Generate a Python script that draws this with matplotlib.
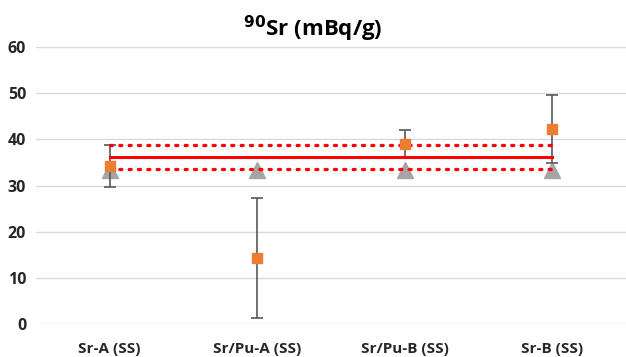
import matplotlib
matplotlib.use("Agg")
import matplotlib.pyplot as plt
import numpy as np

categories = ["Sr-A (SS)", "Sr/Pu-A (SS)", "Sr/Pu-B (SS)", "Sr-B (SS)"]
measured = [34.2, 14.3, 39.0, 42.2]
meas_err = [4.6, 13.0, 3.0, 7.3]
reference = [33.3, 33.3, 33.3, 33.3]
mean_val = [36.1, 36.1, 36.1, 36.1]
upper_lim = [38.8, 38.8, 38.8, 38.8]
lower_lim = [33.5, 33.5, 33.5, 33.5]
yticks = [0, 10, 20, 30, 40, 50, 60]

plt.rcParams['font.family'] = ['Open Sans', 'DejaVu Sans']

fig = plt.figure(figsize=(6.26, 3.57), dpi=100)
ax = fig.add_axes([36/626, 1-324/357, 590/626, (324-47)/357])
x = np.arange(len(categories))

ax.plot(x, reference, linestyle='none', marker='^', markersize=11,
        color='#a5a5a5', zorder=3)
ax.errorbar(x, measured, yerr=meas_err, fmt='none', ecolor='#595959',
            elinewidth=1.2, capsize=4, capthick=1.2, zorder=4)
ax.plot(x, mean_val, color='#ff0000', linewidth=2.2, zorder=5)
ax.plot(x, upper_lim, color='#ff0000', linewidth=2.4, linestyle=(0, (0.6, 2.2)),
        dash_capstyle='round', zorder=5)
ax.plot(x, lower_lim, color='#ff0000', linewidth=2.4, linestyle=(0, (0.6, 2.2)),
        dash_capstyle='round', zorder=5)
ax.plot(x, measured, linestyle='none', marker='s', markersize=7.5,
        color='#ed7d31', zorder=6)

ax.set_xlim(-0.5, 3.5)
ax.set_ylim(0, 60)
ax.set_yticks(yticks)
ax.set_xticks(x)
ax.set_xticklabels(categories)
ax.grid(axis='y', color='#d9d9d9', linewidth=1)
ax.set_axisbelow(True)
for s in ax.spines.values():
    s.set_visible(False)
ax.tick_params(axis='both', length=0, labelcolor='#262626')
ax.tick_params(axis='x', pad=13, labelsize=11)
ax.tick_params(axis='y', pad=7, labelsize=11.5)
for lbl in ax.get_xticklabels() + ax.get_yticklabels():
    lbl.set_fontweight('bold')

fig.text(0.5, 1-29/357, r"$^{\mathbf{90}}$Sr (mBq/g)", ha='center', va='center',
         fontsize=16, fontweight='bold', color='#000000')

fig.savefig("out.png", dpi=100, facecolor='white')
